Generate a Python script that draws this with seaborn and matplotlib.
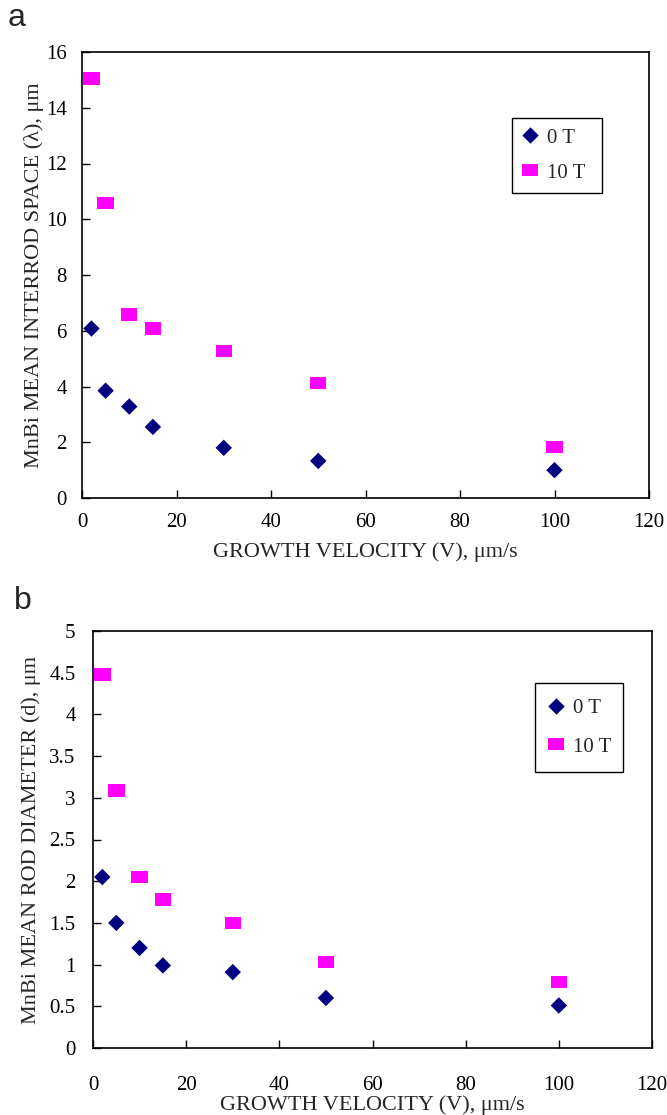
import matplotlib
matplotlib.use("Agg")
import matplotlib.pyplot as plt
import seaborn as sns
import pandas as pd
from matplotlib.ticker import MultipleLocator, FuncFormatter

sns.set_style("white")
plt.rcParams['font.family'] = ['Liberation Serif', 'DejaVu Serif']

velocity = [2, 5, 10, 15, 30, 50, 100]
field_labels = ["0 T", "10 T"]
spacing_0T = [6.08, 3.85, 3.28, 2.55, 1.8, 1.33, 1.0]
spacing_10T = [15.05, 10.58, 6.58, 6.08, 5.27, 4.13, 1.83]
diameter_0T = [2.05, 1.5, 1.2, 0.99, 0.91, 0.6, 0.51]
diameter_10T = [4.48, 3.09, 2.05, 1.78, 1.5, 1.03, 0.79]

def make_df(y0, y1):
    return pd.DataFrame({
        "V": velocity + velocity,
        "y": y0 + y1,
        "field": [field_labels[0]] * len(velocity) + [field_labels[1]] * len(velocity),
    })

diamond = [(0, 1), (1, 0), (0, -1), (-1, 0)]
rect = [(-1, -0.76), (1, -0.76), (1, 0.76), (-1, 0.76)]
palette = {field_labels[0]: "#000080", field_labels[1]: "#FF00FF"}
markers = {field_labels[0]: diamond, field_labels[1]: rect}

fig = plt.figure(figsize=(6.67, 11.15), dpi=100)
ax_a = fig.add_axes([82/667, 1-498/1115, (649-82)/667, (498-52)/1115])
ax_b = fig.add_axes([93/667, 1-1048/1115, (652-93)/667, (1048-631)/1115])

panels = [
    dict(ax=ax_a, df=make_df(spacing_0T, spacing_10T), ymax=16, ystep=2,
         ylabel=u"MnBi MEAN INTERROD SPACE (\u03bb), \u03bcm",
         legbox=(512/667, 1-191/1115, 90/667, 73/1115),
         bp=0.49, ls=0.73, hl=0.75, htp=0.44,
         xpad=11, ypad=11, xlp=7, ylp=1.5),
    dict(ax=ax_b, df=make_df(diameter_0T, diameter_10T), ymax=5, ystep=0.5,
         ylabel=u"MnBi MEAN ROD DIAMETER (d), \u03bcm",
         legbox=(535/667, 1-767/1115, 88/667, 84/1115),
         bp=0.73, ls=0.93, hl=0.56, htp=0.54,
         xpad=20, ypad=12.5, xlp=0.5, ylp=6),
]

for p in panels:
    ax = p["ax"]
    sns.scatterplot(data=p["df"], x="V", y="y", hue="field", style="field",
                    palette=palette, markers=markers, s=140, linewidth=0,
                    ax=ax, legend=True, zorder=3, clip_on=False)
    leg = ax.get_legend()
    handles = leg.legend_handles
    labels = [t.get_text() for t in leg.texts]
    leg.remove()
    for h in handles:
        h.set_markeredgewidth(0)
    l = ax.legend(handles, labels, loc="upper left",
                  bbox_to_anchor=p["legbox"], bbox_transform=fig.transFigure,
                  mode="expand", frameon=True, fancybox=False, framealpha=1,
                  edgecolor="black", fontsize=15, handletextpad=p["htp"],
                  borderaxespad=0, labelspacing=p["ls"], borderpad=p["bp"],
                  handlelength=p["hl"])
    l.get_frame().set_linewidth(1.0)
    ax.set_xlim(0, 120)
    ax.set_ylim(0, p["ymax"])
    ax.xaxis.set_major_locator(MultipleLocator(20))
    ax.yaxis.set_major_locator(MultipleLocator(p["ystep"]))
    ax.yaxis.set_major_formatter(FuncFormatter(lambda v, pos: "%g" % v))
    ax.tick_params(axis="both", direction="in", length=6, width=1,
                   labelsize=15, colors="black",
                   bottom=True, left=True, top=False, right=False)
    ax.tick_params(axis="x", pad=p["xpad"])
    ax.tick_params(axis="y", pad=p["ypad"])
    for sp in ax.spines.values():
        sp.set_visible(True)
        sp.set_color("black")
        sp.set_linewidth(1.2)
    ax.set_xlabel(u"GROWTH VELOCITY (V), \u03bcm/s", fontsize=16, labelpad=p["xlp"])
    ax.set_ylabel(p["ylabel"], fontsize=16, labelpad=p["ylp"])

fig.text(8/667, 1-26/1115, "a", family=["Liberation Sans", "DejaVu Sans"], fontsize=23, va="baseline")
fig.text(14/667, 1-609/1115, "b", family=["Liberation Sans", "DejaVu Sans"], fontsize=23, va="baseline")

fig.savefig("out.png", dpi=100)
